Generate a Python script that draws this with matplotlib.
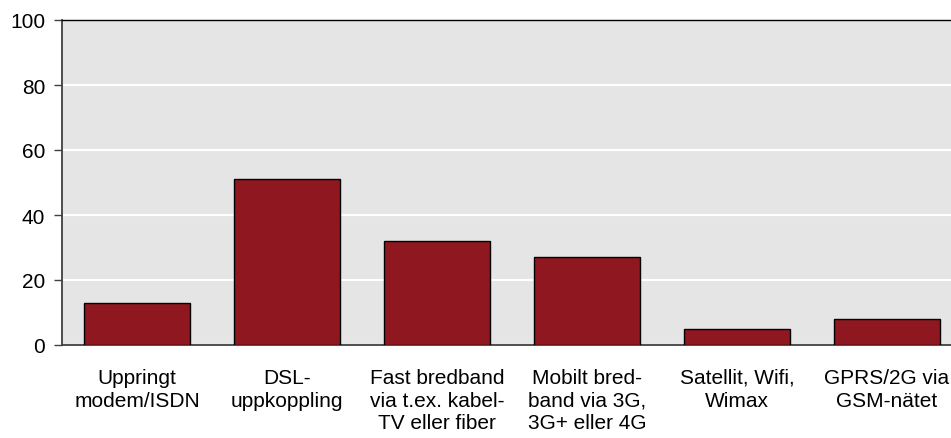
import matplotlib
matplotlib.use("Agg")
import matplotlib.pyplot as plt

categories = ["Uppringt\nmodem/ISDN", "DSL-\nuppkoppling", "Fast bredband\nvia t.ex. kabel-\nTV eller fiber",
              "Mobilt bred-\nband via 3G,\n3G+ eller 4G", "Satellit, Wifi,\nWimax", "GPRS/2G via\nGSM-nätet"]
values = [13, 51, 32, 27, 5, 8]
yticks = [0, 20, 40, 60, 80, 100]

plt.rcParams['font.family'] = ['Liberation Sans', 'DejaVu Sans']
fig = plt.figure(figsize=(9.51, 4.39), dpi=100)
ax = fig.add_axes([62/951, 93/439, 900/951, 325/439])
ax.set_facecolor('#E5E5E5')
x = list(range(len(categories)))
ax.bar(x, values, width=0.713, color='#8E1720', edgecolor='black', linewidth=1, zorder=3)
ax.set_xlim(-0.5, len(categories) - 0.5)
ax.set_ylim(0, 100)
ax.set_yticks(yticks)
ax.set_yticklabels([str(v) for v in yticks], fontsize=15)
ax.set_xticks(x)
ax.set_xticklabels(categories, fontsize=15, linespacing=1.24, va='top')
ax.tick_params(axis='x', length=0, pad=16.5)
ax.tick_params(axis='y', length=6, width=1, color='#404040', pad=6)
ax.yaxis.grid(True, color='white', linewidth=1.5, zorder=0)
ax.set_axisbelow(True)
ax.spines['right'].set_visible(False)
ax.spines['top'].set_color('black')
ax.spines['top'].set_linewidth(1)
ax.spines['left'].set_color('#404040')
ax.spines['left'].set_linewidth(1.3)
ax.spines['bottom'].set_color('#404040')
ax.spines['bottom'].set_linewidth(1.3)
fig.savefig("out.png", dpi=100)
